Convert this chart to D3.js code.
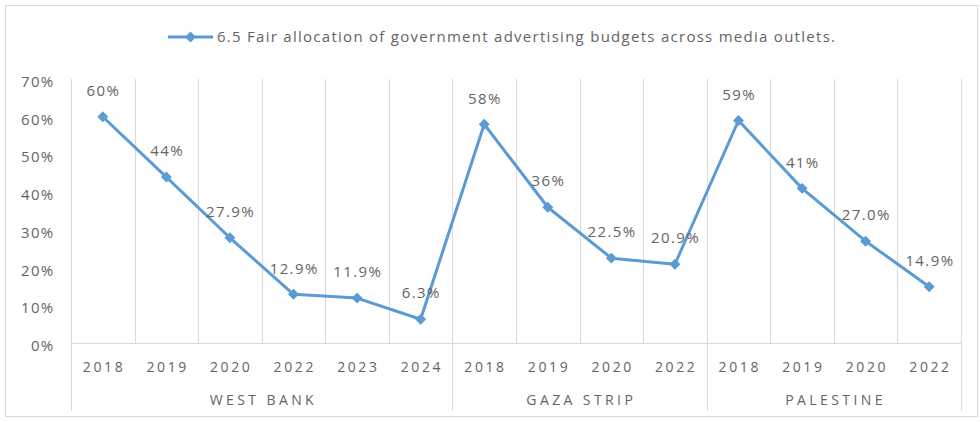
<!DOCTYPE html>
<html>
<head>
<meta charset="utf-8">
<script src="https://cdn.jsdelivr.net/npm/d3@7"></script>
<style>
  html, body { margin: 0; padding: 0; background: #ffffff; }
  svg { display: block; font-family: "Open Sans", "Liberation Sans", sans-serif; }
</style>
</head>
<body>
<svg id="chart" width="980" height="422"></svg>
<script>
// Regions and the survey years reported for each
const groups = ["WEST BANK", "GAZA STRIP", "PALESTINE"];
const westBankYears = ["2018", "2019", "2020", "2022", "2023", "2024"];
const gazaYears = ["2018", "2019", "2020", "2022"];
const palestineYears = ["2018", "2019", "2020", "2022"];

// Share answering "fair allocation" (percent)
const westBankValues = [60, 44, 27.9, 12.9, 11.9, 6.3];
const gazaValues = [58, 36, 22.5, 20.9];
const palestineValues = [59, 41, 27.0, 14.9];

// Data label text as printed on the chart
const westBankLabels = ["60%", "44%", "27.9%", "12.9%", "11.9%", "6.3%"];
const gazaLabels = ["58%", "36%", "22.5%", "20.9%"];
const palestineLabels = ["59%", "41%", "27.0%", "14.9%"];

const yTicks = [0, 10, 20, 30, 40, 50, 60, 70];
const seriesName = "6.5 Fair allocation of government advertising budgets across media outlets.";

// Flatten into one ordered category list
const rows = [];
[[westBankYears, westBankValues, westBankLabels],
 [gazaYears, gazaValues, gazaLabels],
 [palestineYears, palestineValues, palestineLabels]].forEach(([yrs, vals, labs], g) => {
  yrs.forEach((yr, i) => rows.push({ key: g + "|" + yr, group: groups[g], year: yr, value: vals[i], label: labs[i] }));
});

const svg = d3.select("#chart");
const plotLeft = 71, plotRight = 961, plotTop = 79, plotBottom = 343;
const textColor = "#646464", gridColor = "#d9d9d9", lineColor = "#5b9bd5";

// Outer chart frame
svg.append("rect").attr("x", 5.5).attr("y", 5.5).attr("width", 972).attr("height", 411)
  .attr("fill", "#fff").attr("stroke", gridColor).attr("stroke-width", 1);

const x = d3.scaleBand().domain(rows.map(d => d.key)).range([plotLeft, plotRight]);
const y = d3.scaleLinear().domain([0, 70]).range([plotBottom, plotTop]);

// Vertical gridlines at every category boundary
const boundaries = d3.range(rows.length + 1).map(i => plotLeft + i * x.step());
svg.append("g").selectAll("line").data(boundaries).join("line")
  .attr("x1", d => Math.round(d) + 0.5).attr("x2", d => Math.round(d) + 0.5)
  .attr("y1", plotTop).attr("y2", plotBottom)
  .attr("stroke", gridColor).attr("stroke-width", 1);

// Group separators extending through the axis label area
const groupStarts = [];
let idx = 0;
groups.forEach(g => {
  const n = rows.filter(r => r.group === g).length;
  groupStarts.push({ group: g, start: idx, end: idx + n });
  idx += n;
});
const sepIdx = [0].concat(groupStarts.map(g => g.end));
svg.append("g").selectAll("line").data(sepIdx).join("line")
  .attr("x1", d => Math.round(plotLeft + d * x.step()) + 0.5)
  .attr("x2", d => Math.round(plotLeft + d * x.step()) + 0.5)
  .attr("y1", plotBottom).attr("y2", 411)
  .attr("stroke", gridColor).attr("stroke-width", 1);

// Category axis baseline
svg.append("line").attr("x1", plotLeft).attr("x2", plotRight + 1)
  .attr("y1", plotBottom + 0.5).attr("y2", plotBottom + 0.5)
  .attr("stroke", gridColor).attr("stroke-width", 1);

// Value axis tick labels
const yAxis = d3.axisLeft(y).tickValues(yTicks).tickFormat(d => d + "%").tickSize(0).tickPadding(0);
const yg = svg.append("g").attr("transform", `translate(54.5,0)`).call(yAxis);
yg.select(".domain").remove();
yg.selectAll("text").attr("fill", textColor).attr("font-size", 15).attr("letter-spacing", 1.3)
  .attr("font-family", "'Open Sans', sans-serif").attr("dy", "0.5em");

// Year labels
svg.append("g").selectAll("text").data(rows).join("text")
  .attr("x", d => x(d.key) + x.bandwidth() / 2 + 1.3)
  .attr("y", 367).attr("dy", "0.35em").attr("text-anchor", "middle")
  .attr("font-size", 14).attr("letter-spacing", 2.6).attr("fill", textColor)
  .text(d => d.year);

// Region labels
svg.append("g").selectAll("text").data(groupStarts).join("text")
  .attr("x", d => plotLeft + (d.start + d.end) / 2 * x.step() + 1.7)
  .attr("y", 400).attr("dy", "0.35em").attr("text-anchor", "middle")
  .attr("font-size", 14).attr("letter-spacing", 3.4).attr("fill", textColor)
  .text(d => d.group);

// Series line
const line = d3.line().x(d => x(d.key) + x.bandwidth() / 2).y(d => y(d.value));
svg.append("path").datum(rows).attr("d", line)
  .attr("fill", "none").attr("stroke", lineColor).attr("stroke-width", 3)
  .attr("stroke-linejoin", "round");

// Diamond markers
const diamond = d3.symbol().type(d3.symbolSquare).size(60);
svg.append("g").selectAll("path").data(rows).join("path")
  .attr("d", diamond)
  .attr("transform", d => `translate(${x(d.key) + x.bandwidth() / 2},${y(d.value)}) rotate(45)`)
  .attr("fill", lineColor);

// Data labels
svg.append("g").selectAll("text").data(rows).join("text")
  .attr("x", d => x(d.key) + x.bandwidth() / 2 + 0.7)
  .attr("y", d => y(d.value) - 26).attr("dy", "0.35em").attr("text-anchor", "middle")
  .attr("font-size", 15).attr("letter-spacing", 1.4).attr("fill", textColor)
  .text(d => d.label);

// Legend
const lg = svg.append("g");
lg.append("line").attr("x1", 168).attr("x2", 213).attr("y1", 37).attr("y2", 37)
  .attr("stroke", lineColor).attr("stroke-width", 3);
lg.append("path").attr("d", diamond).attr("transform", "translate(190.5,37) rotate(45)").attr("fill", lineColor);
lg.append("text").attr("x", 217).attr("y", 37).attr("dy", "0.35em")
  .attr("font-size", 15).attr("textLength", 618).attr("lengthAdjust", "spacing")
  .attr("fill", textColor).text(seriesName);
</script>
</body>
</html>
